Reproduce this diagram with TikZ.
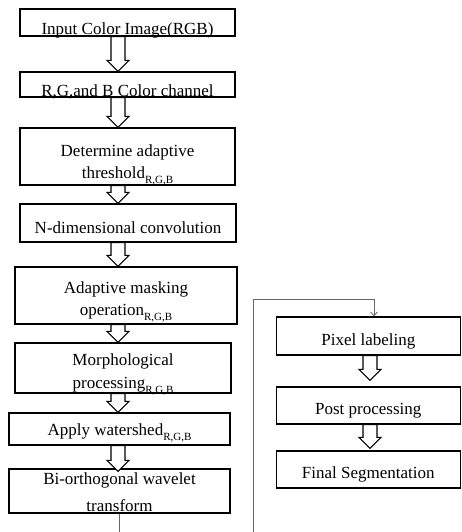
\documentclass[tikz,border=0pt]{standalone}
\usepackage{fontspec}
\setmainfont{Liberation Serif}
\usetikzlibrary{arrows.meta,calc}
\newcommand\rgbsub{\raisebox{-5pt}{\fontsize{11}{11}\selectfont R,G,B}}
% hollow block arrow: [gap]{from}{to}{x}
\newcommand\barrow[4][0]{%
  \draw[barrowstyle] let \p1=(#2.south), \p2=(#3.north) in
    ({#4pt-7pt},\y1) -- ({#4pt-7pt},{\y2+(#1pt)+11pt}) -- ({#4pt-11pt},{\y2+(#1pt)+11pt})
    -- ({#4pt},{\y2+(#1pt)}) -- ({#4pt+11pt},{\y2+(#1pt)+11pt}) -- ({#4pt+7pt},{\y2+(#1pt)+11pt})
    -- ({#4pt+7pt},\y1) -- cycle;}
\begin{document}
\begin{tikzpicture}[x=1pt,y=-1pt,
  box/.style={draw=black, line width=1.2pt, inner sep=0pt, fill=white,
    font=\fontsize{17}{20}\selectfont, align=center},
  barrowstyle/.style={draw=black, line width=1.1pt, fill=white, line join=miter},
  conn/.style={draw=black!60, line width=0.8pt, -{Straight Barb[length=4pt,width=7pt]}}]
\useasboundingbox (0,0) rectangle (461,532);
\clip (0,0) rectangle (461,532);

% left column
\node[box, minimum width=215pt, minimum height=27pt, text height=25pt, text depth=0pt] (b1) at (127.5,22.5) {Input Color Image(RGB)};
\node[box, minimum width=215pt, minimum height=25pt, text height=24pt, text depth=0pt] (b2) at (127.5,84.5) {R,G,and B Color channel};
\node[box, minimum width=215pt, minimum height=57pt, text height=43pt, text depth=0pt] (b3) at (127.5,156.5) {Determine adaptive\\[2pt]threshold\rgbsub};
\node[box, minimum width=216pt, minimum height=38pt, text height=21pt, text depth=0pt] (b4) at (128,223) {N-dimensional convolution};
\node[box, minimum width=222pt, minimum height=57pt, text height=39pt, text depth=0pt] (b5) at (126,295.5) {Adaptive masking\\[2pt]operation\rgbsub};
\node[box, minimum width=216pt, minimum height=50pt, text height=40pt, text depth=0pt] (b6) at (123,368) {Morphological\\[3pt]processing\rgbsub};
\node[box, minimum width=221pt, minimum height=32pt, text height=13pt, text depth=0pt] (b7) at (119.5,429) {Apply watershed\rgbsub};
\node[box, minimum width=221pt, minimum height=44pt, text height=40pt, text depth=0pt] (b8) at (119.5,491) {Bi-orthogonal wavelet\\[7pt]transform};

% right column
\node[box, minimum width=184pt, minimum height=38pt, text height=19pt, text depth=0pt] (r1) at (368.3,336) {Pixel labeling};
\node[box, minimum width=184pt, minimum height=37pt, text height=18pt, text depth=0pt] (r2) at (368.3,405.5) {Post processing};
\node[box, minimum width=184pt, minimum height=37pt, text height=18pt, text depth=0pt] (r3) at (368.3,469.5) {Final Segmentation};

% block arrows
\barrow{b1}{b2}{118}
\barrow{b2}{b3}{118}
\barrow{b3}{b4}{118}
\barrow{b4}{b5}{118}
\barrow{b5}{b6}{118}
\barrow{b6}{b7}{118}
\barrow[-3]{b7}{b8}{118}
\barrow[6]{r1}{r2}{370}
\barrow[2]{r2}{r3}{370}

% connector from left column to right column
\coordinate (c1) at (253,545);
\coordinate (c2) at (253,299);
\draw[conn] (b8.south) |- (c1) -- (c2) -| ([xshift=5.7pt]r1.north);
\end{tikzpicture}
\end{document}
